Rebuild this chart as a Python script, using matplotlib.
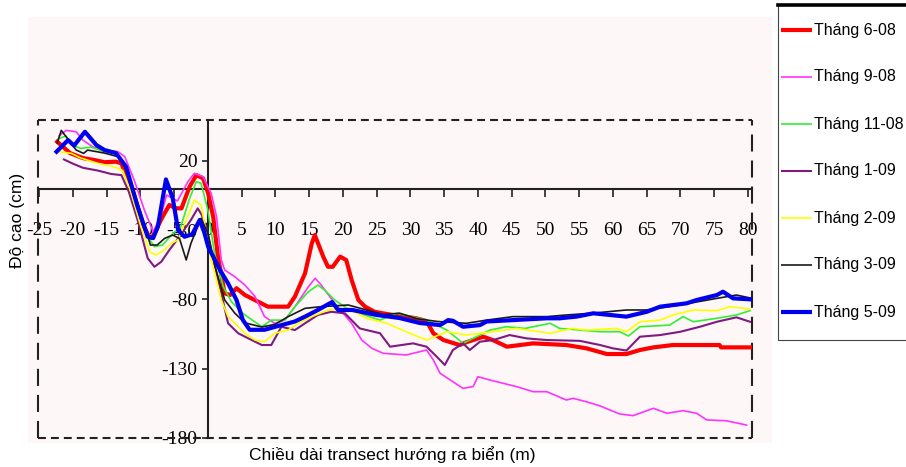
import matplotlib.pyplot as plt
from matplotlib.lines import Line2D
from matplotlib.patches import Rectangle

# Mặt cắt transect: khoảng cách (m) và độ cao (cm) theo từng đợt đo
x_t6_08 = [-22.3, -20.4, -18.5, -16.8, -15.3, -13.6, -12.8, -11.4, -9.9, -8.6, -8.1, -6.7, -5.7, -4.7,
           -3.9, -2.7, -1.7, -0.7, 0.05, 0.8, 1.5, 2.5, 3.3, 4.25, 5.5, 7.45, 8.9, 11.9, 12.9, 14.4,
           15.4, 15.85, 17.1, 17.8, 18.5, 19.6, 20.5, 21.3, 22.3, 23.3, 24.7, 27, 30.9, 32.4, 33.4,
           34.9, 37.3, 38.3, 40.8, 42.2, 44.3, 48.2, 53.1, 56.1, 59.1, 62, 64, 66, 68.9, 75.8, 76, 80.3]
y_t6_08 = [33.8, 25.6, 22, 20.6, 19, 19.4, 18.2, 1.3, -22.7, -36, -34, -20.4, -11.9, -14.3,
           -14.3, 1.3, 9.7, 7.4, -3.5, -20.4, -49.2, -75.7, -76.9, -72, -76.9, -81.7, -85.3, -85.3, -78, -61.2,
           -39.6, -33.6, -49.2, -56.5, -56.5, -49.2, -51.6, -66, -80.5, -85.3, -89, -91, -93.7, -95.7, -104.5,
           -109.4, -113, -111, -107, -109.4, -114.2, -111.8, -113, -115.4, -119.5, -119.5, -116.6, -114.7, -113, -113, -114.7, -114.7]

x_t9_08 = [-22, -21, -19.5, -18.5, -17, -15.3, -13.3, -12.3, -10.9, -9.4, -8.1, -6.9, -6.1, -4.5, -2.96,
           -2, -0.7, 0.5, 1.3, 2, 2.5, 4, 5.5, 7, 8.4, 9.9, 11.4, 12.9, 14.9, 15.9, 16.8, 18.8, 21.3,
           22.8, 24.3, 26, 29.4, 32.4, 33.4, 34.4, 36.3, 37.8, 39.3, 40, 41.8, 45.7, 48.2, 50.2, 53.1,
           54.1, 56.1, 58.1, 61, 63, 66, 68, 70.4, 72.4, 73.9, 76.8, 79.8]
y_t9_08 = [38, 42, 41, 35, 30, 27.8, 26.6, 23, 6.1, -15.5, -31.2, -19.1, -4.7, -9, 4.9,
           11, 8.5, -3.5, -20.4, -51.6, -58.8, -63.7, -69.7, -78, -92.5, -97.3, -95, -85.3, -70.9, -64.8, -69.7, -82.9, -97.3,
           -109.4, -115.4, -119, -120.2, -116.6, -123.8, -133.4, -139.5, -144.3, -143, -135.9, -138.3, -143, -146.7, -146.7, -152.7,
           -151.5, -154, -157, -162.8, -164, -158.7, -162.3, -160.4, -162.3, -167.1, -167.7, -170.8]

x_t11_08 = [-22.1, -21, -20.2, -18.8, -17.3, -15.3, -13.6, -12.1, -10.4, -8.9, -7.9, -6.7, -5.4, -4, -2.7,
            -1.7, -1, 0, 1, 2.3, 3.5, 5.2, 6, 8, 9.4, 11.4, 12.9, 14.9, 16.3, 17.3, 18.8, 21, 25.5,
            28, 32.4, 35.4, 37.8, 39.8, 41.8, 44.2, 47, 50.7, 52.1, 55.1, 58.1, 61, 62.3, 64, 68.4,
            70.4, 71.9, 75.4, 78.3, 80.3]
y_t11_08 = [36, 38, 31.4, 29, 29.9, 26.6, 25.4, 17, -10.7, -34.8, -42, -40.8, -33.6, -27.6, -7.1,
            4.9, 3.8, -15.5, -46.8, -70.9, -81.7, -90.1, -93, -99.8, -95, -95, -85.3, -74.5, -69.7, -73.3, -80.5, -87.7, -95,
            -90.1, -95, -102.2, -111.8, -107, -102.2, -99.8, -101, -97.3, -101, -102.2, -103.4, -103.4, -106.5, -99.8, -98.6,
            -92.5, -96.2, -93.7, -91.3, -88.2]

x_t1_09 = [-21.3, -20, -18.5, -16.3, -14.3, -12.8, -11.7, -10.4, -8.9, -7.9, -6.9, -5.7, -4.4, -2.5, -1.5,
           -0.9, 0, 1, 2, 3, 4.5, 6, 8, 9.4, 10.9, 12.9, 14.4, 16.3, 18.3, 20.3, 22.5, 25.5, 27,
           30.4, 32.4, 33.9, 35.1, 36.3, 37.8, 38.8, 40.3, 42.3, 44.7, 47.2, 50.2, 55.1, 58.1, 60, 62,
           64, 67, 70, 72.9, 75.4, 78.3, 80.3]
y_t1_09 = [21, 18, 15, 13, 10.5, 9.7, -2.3, -22.7, -50.4, -56.5, -52.9, -44.4, -36, -22.7, -14.3,
           -19, -32.3, -55, -75.7, -97.3, -104.5, -108.2, -113, -113, -99.8, -102.2, -97.3, -91.3, -89, -90.1, -101, -104.5, -114.2,
           -111.8, -114.2, -121.4, -127.4, -116.6, -111.8, -116.6, -110.6, -109.4, -105.8, -108.2, -109.4, -110, -113, -115.4, -117,
           -107, -105.8, -103.4, -99.8, -96.2, -93, -96.2]

x_t2_09 = [-22, -20.2, -18.8, -16.3, -13.8, -12.6, -11.4, -9.9, -8.6, -7.7, -6.4, -5.4, -4.4, -3, -2,
           -1, -0.4, 0.55, 2, 3, 5.5, 7, 8.4, 9.9, 11.9, 13.4, 15.4, 17.8, 20.8, 23.5, 26.5, 29.9,
           32.4, 35.4, 38.3, 42.3, 45.7, 50.7, 54, 56.1, 60.6, 62, 64, 67, 68.9, 71.9, 75.4, 77.3, 80.3]
y_t2_09 = [26.6, 25.4, 22, 18.2, 15.7, 13, -2.3, -27.6, -45.6, -48, -44.4, -39.6, -37, -20.4, -8.3,
           -11.9, -27.6, -51.6, -80.5, -92.5, -104.5, -109.4, -110.6, -104.5, -102.2, -97.3, -92.5, -87.7, -86.5, -93.7, -97.3, -104.5,
           -109.4, -103.4, -105.8, -103.4, -101, -104.5, -101, -102.2, -101, -103.4, -96.2, -95, -91.3, -87.7, -88.2, -85.3, -87]

x_t3_09 = [-22.3, -21.7, -19.5, -18.4, -17.8, -15.3, -13.3, -11.9, -9.9, -8.5, -7.5, -6.4, -5.2, -4.2, -3.2,
           -2.5, -1, 0, 1, 2.5, 4, 5.5, 8, 10, 11.9, 14.4, 16.8, 20.8, 23.5, 26, 28.4, 31, 34,
           38.3, 41.3, 45.2, 50.2, 53.1, 57, 62, 65, 70, 75.4, 78.3, 80.3]
y_t3_09 = [33, 42, 27.8, 25.4, 27.8, 25.6, 23, 13.4, -17.7, -40.8, -40.8, -36, -33.6, -36, -51.6,
           -39.6, -21.5, -32.3, -55, -80.5, -90, -97, -100, -98, -92.5, -86.5, -85.3, -84.1, -87.7, -91, -90, -94, -96,
           -97.3, -95, -92.5, -92.5, -91.3, -90, -87.7, -87.7, -84, -79.3, -76.9, -79]

x_t5_09 = [-22.4, -20.7, -19.8, -18.2, -16.5, -15.3, -13.6, -12.1, -10.4, -8.9, -8.1, -7.4, -6.2, -5.2, -4.4,
           -3.45, -2.3, -1.2, -0.5, 0.05, 1.8, 3, 4.25, 5.2, 6.2, 8.4, 10.9, 12.9, 14.4, 16.3, 18.4,
           19.3, 21.4, 25, 28.4, 31.4, 34.4, 35.6, 36.3, 37.8, 40.3, 41.3, 45.2, 50.2, 52.1, 54.6, 57.1,
           62, 65, 67, 70.9, 72.4, 75.4, 76.3, 77.8, 80.3]
y_t5_09 = [26.6, 35, 31, 41, 31.4, 27.8, 25.6, 15.7, -13, -34.8, -35.8, -27.6, 6.6, -6.9, -30,
           -34.8, -33, -22.7, -32, -42, -58.8, -68.5, -80.5, -95, -102, -102, -98.6, -96, -92.5, -87.7, -82,
           -87.7, -87.7, -91.3, -93.5, -97.1, -98.6, -95, -95.5, -99.8, -98.6, -96, -95, -93.7, -93.7, -92.5, -90.1,
           -92.5, -89, -85.3, -82.9, -80.5, -76.9, -74.5, -79.3, -80]

thang = ['Tháng 6-08', 'Tháng 9-08', 'Tháng 11-08', 'Tháng 1-09', 'Tháng 2-09', 'Tháng 3-09', 'Tháng 5-09']
ds_x = [x_t6_08, x_t9_08, x_t11_08, x_t1_09, x_t2_09, x_t3_09, x_t5_09]
ds_y = [y_t6_08, y_t9_08, y_t11_08, y_t1_09, y_t2_09, y_t3_09, y_t5_09]
mau = ['#ff0000', '#ff33ff', '#33ee33', '#801a80', '#ffff00', '#1a1a1a', '#0000ee']
do_day = [3.0, 1.2, 1.2, 1.5, 1.2, 1.2, 3.0]

x_ticks = list(range(-25, 81, 5))
x_tick_labels = [str(v) for v in x_ticks]
y_ticks = [20, -30, -80, -130, -180]
y_tick_labels = [str(v) for v in y_ticks]

W, H = 906, 467
fig = plt.figure(figsize=(W / 100, H / 100), dpi=100)

# nền hồng nhạt của vùng đồ thị
fig.patches.append(Rectangle((28 / W, 1 - 443 / H), (772 - 28) / W, (443 - 17) / H,
                             transform=fig.transFigure, facecolor='#fdf8f7', edgecolor='none', zorder=-5))

ax = fig.add_axes([38 / W, (H - 437.8) / H, 714 / W, (437.8 - 120) / H])
ax.set_facecolor('none')

for xs, ys, c, lw in zip(ds_x, ds_y, mau, do_day):
    ax.plot(xs, ys, color=c, linewidth=lw, zorder=3)

ax.set_xlim(-25.15, 80.6)
ax.set_ylim(-180, 49.5)

# trục toạ độ đi qua gốc (0, 0)
ax.spines['left'].set_position(('data', 0))
ax.spines['bottom'].set_position(('data', 0))
ax.spines['top'].set_visible(False)
ax.spines['right'].set_visible(False)
for s in ('left', 'bottom'):
    ax.spines[s].set_linewidth(1.5)
    ax.spines[s].set_color('#222222')

tick_font = dict(family='Liberation Serif', size=14)
ax.set_xticks(x_ticks)
ax.set_xticklabels(x_tick_labels, fontdict=tick_font)
ax.set_yticks(y_ticks)
ax.set_yticklabels(y_tick_labels, fontdict=tick_font)
ax.tick_params(axis='x', direction='out', length=6, width=1.2, pad=18, color='#222222')
ax.tick_params(axis='y', direction='out', length=4.5, width=1.2, pad=3, color='#222222')

# khung nét đứt
ax.add_line(Line2D([0, 1], [1, 1], transform=ax.transAxes, color='#222222', lw=1.5,
                   dashes=(3.8, 2.4), clip_on=False))
ax.add_line(Line2D([0, 1], [0, 0], transform=ax.transAxes, color='#222222', lw=1.5,
                   dashes=(3.8, 2.4), clip_on=False))
ax.add_line(Line2D([0, 0], [0, 1], transform=ax.transAxes, color='#222222', lw=1.5,
                   dashes=(8.2, 4.3), clip_on=False))
ax.add_line(Line2D([1, 1], [0, 1], transform=ax.transAxes, color='#222222', lw=1.5,
                   dashes=(8.2, 4.3), clip_on=False))

fig.text(392 / W, 1 - 455 / H, 'Chiều dài transect hướng ra biển (m)',
         family='Liberation Sans', size=12.5, ha='center', va='center')
fig.text(18 / W, 1 - 220 / H, 'Độ cao (cm)', family='Liberation Sans', size=12.5,
         rotation=90, ha='center', va='center')

# chú giải bên phải
fig.patches.append(Rectangle((778 / W, 1 - 340 / H), 140 / W, 335 / H, transform=fig.transFigure,
                             facecolor='white', edgecolor='#444444', lw=0.8, zorder=1))
fig.add_artist(Line2D([778 / W, 1], [1 - 5 / H, 1 - 5 / H], transform=fig.transFigure,
                      color='black', lw=2.6, zorder=2))
for i, (ten, c, lw) in enumerate(zip(thang, mau, do_day)):
    yr = 1 - (30 + 47 * i) / H
    fig.add_artist(Line2D([781 / W, 812 / W], [yr, yr], transform=fig.transFigure,
                          color=c, lw=lw, solid_capstyle='butt', zorder=3))
    fig.text(814 / W, yr, ten, family='Liberation Sans', size=11.5, ha='left', va='center', zorder=3)

fig.savefig('out.png', dpi=100)
